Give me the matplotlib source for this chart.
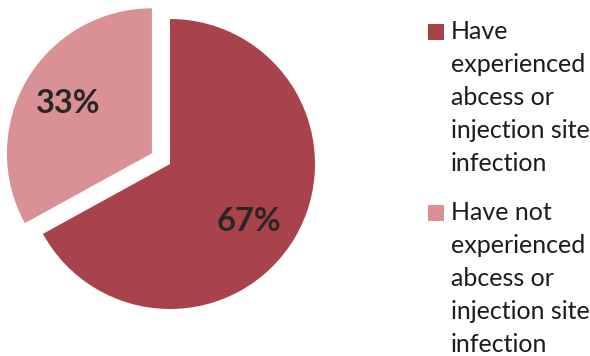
import matplotlib
matplotlib.use("Agg")
import numpy as np
import matplotlib.pyplot as plt
from matplotlib.patches import Rectangle
from matplotlib.legend_handler import HandlerPatch

# Survey shares
labels = [
    "Have\nexperienced\nabcess or\ninjection site\ninfection",
    "Have not\nexperienced\nabcess or\ninjection site\ninfection",
]
shares = [67, 33]
colors = ["#A8424B", "#D99195"]

plt.rcParams["font.family"] = ["Lato", "DejaVu Sans"]

DPI = 100
fig = plt.figure(figsize=(5.9, 3.56), dpi=DPI)
ax = fig.add_axes([0, 0, 1, 1])
ax.set_xlim(0, 590)
ax.set_ylim(0, 356)
ax.set_aspect("equal")

wedges, texts, autotexts = ax.pie(
    shares,
    colors=colors,
    startangle=90,
    counterclock=False,
    explode=[0, 21],
    center=(170, 192),
    radius=145,
    autopct=lambda p: f"{p:.0f}%",
    pctdistance=0.67,
    textprops=dict(fontsize=23.5, fontweight="bold", color="#2b2626"),
    wedgeprops=dict(linewidth=0),
    frame=True,
)
ax.axis("off")

# rotate the large slice's label a little further round its wedge
w = wedges[0]
cx, cy = w.center
ang = np.deg2rad((w.theta1 + w.theta2) / 2 - 5.5)
rr = 0.67 * w.r
autotexts[0].set_position((cx + rr * np.cos(ang), cy + rr * np.sin(ang)))

FS = 18
LINE_PX = 33
line_pt = LINE_PX * 72 / DPI


def top_square(legend, orig_handle, xdescent, ydescent, width, height, fontsize):
    # keep the colour key level with the first line of a multi-line label
    return Rectangle((-xdescent, -ydescent + 2 * line_pt), width, height)


leg = ax.legend(
    wedges,
    labels,
    loc="upper left",
    bbox_to_anchor=(428 / 590, 1 - 20 / 356),
    frameon=False,
    fontsize=FS,
    handlelength=0.62,
    handleheight=0.62,
    handletextpad=0.3,
    labelspacing=1.02,
    borderaxespad=0,
    borderpad=0,
    handler_map={type(wedges[0]): HandlerPatch(patch_func=top_square)},
)
for t in leg.get_texts():
    t.set_linespacing(1.53)
    t.set_color("#1c1c1c")

fig.savefig("out.png", dpi=DPI)
